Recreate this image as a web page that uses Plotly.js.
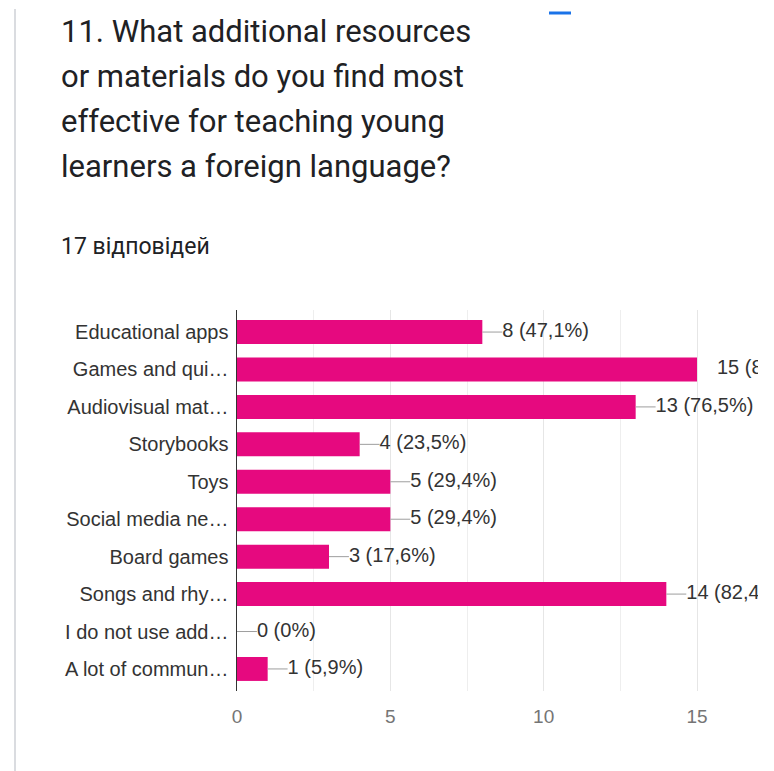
<!DOCTYPE html>
<html>
<head>
<meta charset="utf-8">
<script src="https://cdn.plot.ly/plotly-3.0.1.min.js"></script>
<style>html,body{margin:0;padding:0;background:#fff;}#chart{width:774px;height:771px;}</style>
</head>
<body>
<div id="chart"></div>
<script>
// ---- data ----
var categories = [
  "Educational apps",
  "Games and qui…",
  "Audiovisual mat…",
  "Storybooks",
  "Toys",
  "Social media ne…",
  "Board games",
  "Songs and rhy…",
  "I do not use add…",
  "A lot of commun…"
];
var counts = [8, 15, 13, 4, 5, 5, 3, 14, 0, 1];
var totalResponses = 17;
var xTickValues = [0, 5, 10, 15];
var titleLines = [
  "11. What additional resources",
  "or materials do you find most",
  "effective for teaching young",
  "learners a foreign language?"
];
var responsesText = "17 відповідей";

// ---- derived ----
function pctLabel(v) {
  if (v === 0) return v + " (0%)";
  return v + " (" + (v / totalResponses * 100).toFixed(1).replace(".", ",") + "%)";
}
var labels = counts.map(pctLabel);
var maxCount = Math.max.apply(null, counts);
var leader = 0.65;
var leaderLen = counts.map(function (v) { return v === maxCount ? 0 : leader; });
var labelX = counts.map(function (v) { return v + leader; });

var W = 774, H = 771;
var L = 237, R = 16, T = 310, B = 80;
var plotW = W - L - R, plotH = H - T - B;
var unitPx = (697 - 237) / 15;            // pixels per unit on the x axis
var xMax = plotW / unitPx;                 // axis range extends to the clipped edge
function px2paperX(px) { return (px - L) / plotW; }
function px2paperY(py) { return 1 - (py - T) / plotH; }

var pink = "#e6097f";

var traces = [
  {
    type: "bar",
    orientation: "h",
    y: categories,
    x: counts,
    marker: { color: pink },
    hoverinfo: "none"
  },
  {
    type: "scatter",
    mode: "markers",
    y: categories,
    x: counts,
    marker: { size: 1, color: "rgba(0,0,0,0)" },
    error_x: {
      type: "data",
      symmetric: false,
      array: leaderLen,
      arrayminus: counts.map(function () { return 0; }),
      width: 0,
      thickness: 1,
      color: "#9e9e9e"
    },
    cliponaxis: true,
    hoverinfo: "none"
  },
  {
    type: "scatter",
    mode: "text",
    y: categories,
    x: labelX,
    text: labels,
    textposition: "middle right",
    textfont: { family: "Liberation Sans, Arial, sans-serif", size: 20, color: "#333333" },
    cliponaxis: true,
    hoverinfo: "none"
  }
];

var titleFont = { family: "Roboto, sans-serif", size: 31, color: "#202124" };
var annotations = titleLines.map(function (line, i) {
  return {
    text: line,
    xref: "paper", yref: "paper",
    x: px2paperX(59), y: px2paperY(31 + 45 * i),
    xanchor: "left", yanchor: "middle",
    showarrow: false,
    font: titleFont
  };
});
annotations.push({
  text: responsesText,
  xref: "paper", yref: "paper",
  x: px2paperX(59), y: px2paperY(246),
  xanchor: "left", yanchor: "middle",
  showarrow: false,
  font: { family: "Roboto, sans-serif", size: 23, color: "#202124" }
});

var layout = {
  width: W,
  height: H,
  margin: { l: L, r: R, t: T, b: B, pad: 0 },
  paper_bgcolor: "#ffffff",
  plot_bgcolor: "#ffffff",
  showlegend: false,
  bargap: 0.36,
  xaxis: {
    range: [0, xMax],
    tickvals: xTickValues,
    showgrid: true,
    gridcolor: "#e6e6e6",
    gridwidth: 1,
    minor: { dtick: 2.5, showgrid: true, gridcolor: "#eeeeee", gridwidth: 1 },
    zeroline: false,
    showline: false,
    ticks: "outside",
    ticklen: 8,
    tickcolor: "rgba(0,0,0,0)",
    tickfont: { family: "Liberation Sans, Arial, sans-serif", size: 19, color: "#757575" },
    fixedrange: true
  },
  yaxis: {
    autorange: "reversed",
    showgrid: false,
    zeroline: false,
    showline: true,
    linecolor: "#333333",
    linewidth: 1.5,
    ticks: "",
    ticklabelstandoff: 3,
    tickfont: { family: "Liberation Sans, Arial, sans-serif", size: 20, color: "#333333" },
    fixedrange: true
  },
  annotations: annotations,
  shapes: [
    {
      type: "line", layer: "above",
      xref: "paper", yref: "paper",
      x0: px2paperX(15), x1: px2paperX(15),
      y0: px2paperY(9), y1: px2paperY(H),
      line: { color: "#dadce0", width: 2 }
    },
    {
      type: "line", layer: "above",
      xref: "paper", yref: "paper",
      x0: px2paperX(549), x1: px2paperX(571),
      y0: px2paperY(13), y1: px2paperY(13),
      line: { color: "#1a73e8", width: 3 }
    }
  ]
};

Plotly.newPlot("chart", traces, layout, { displayModeBar: false, staticPlot: true });
</script>
</body>
</html>
